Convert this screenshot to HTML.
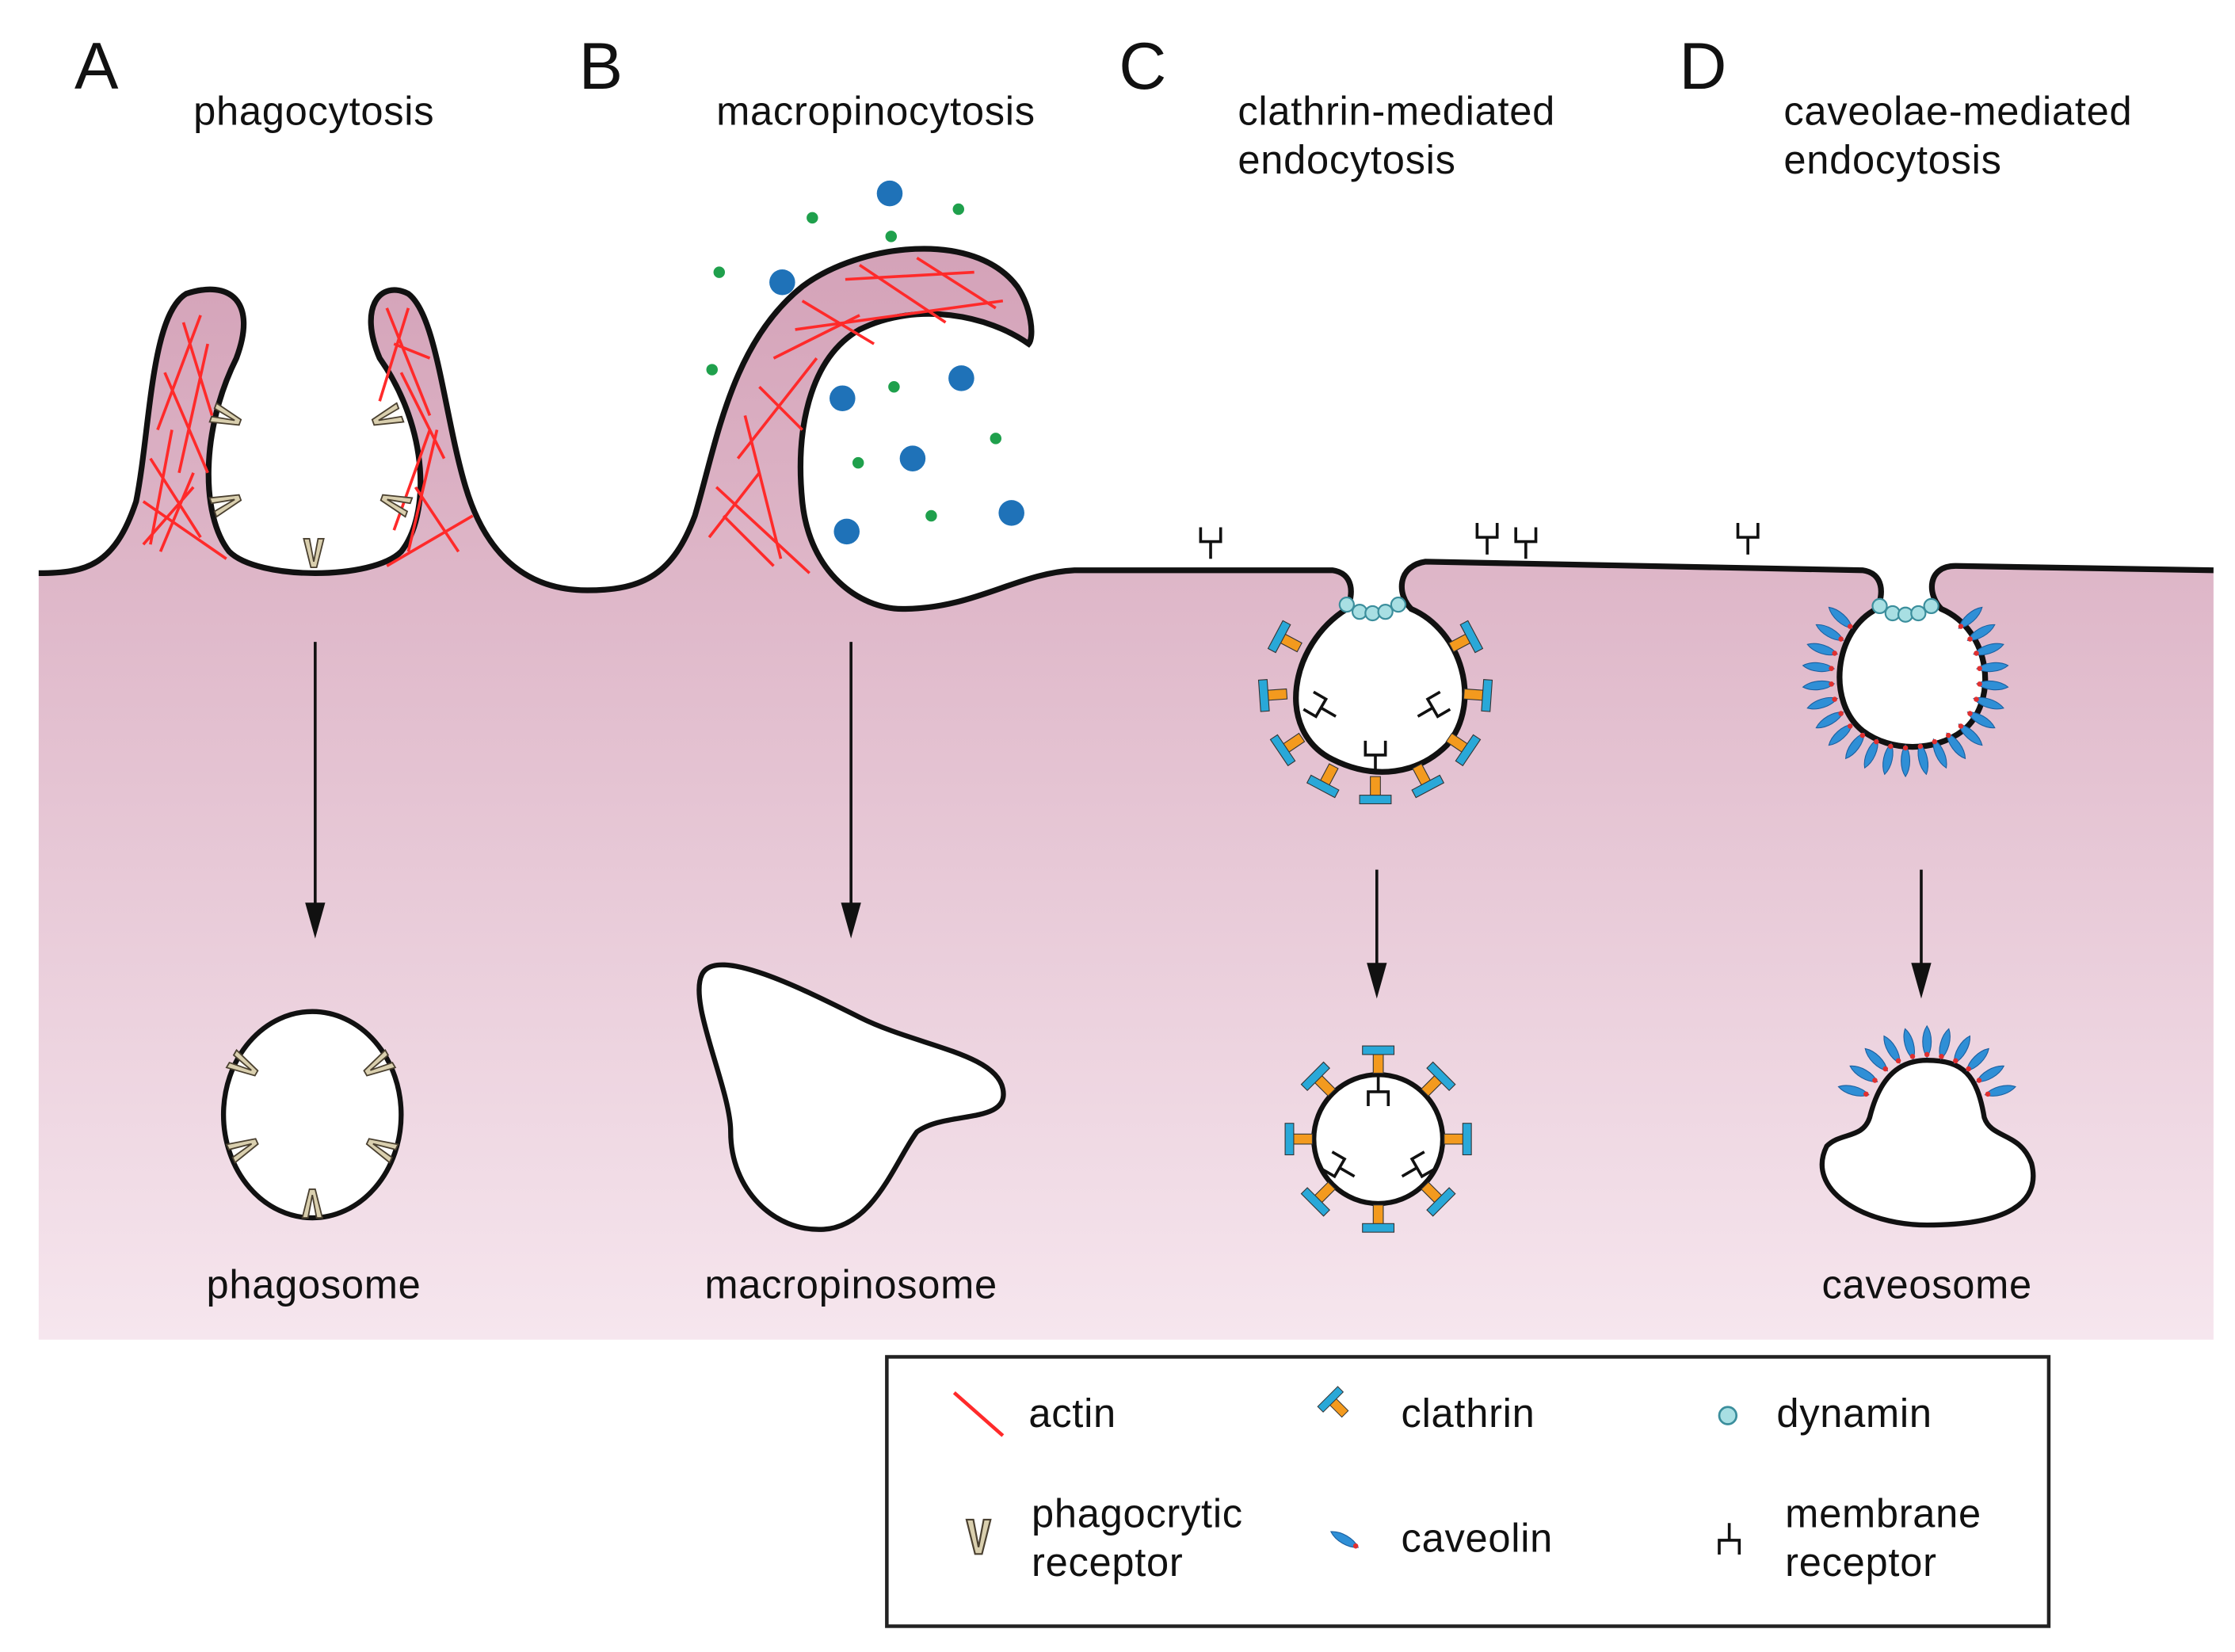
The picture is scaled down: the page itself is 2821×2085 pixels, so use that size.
<!DOCTYPE html>
<html><head><meta charset="utf-8"><style>
html,body{margin:0;padding:0;background:#fff;}
svg{display:block;}
text{font-family:"Liberation Sans",sans-serif;fill:#111;}
.t{font-size:28px;letter-spacing:0.4px;}
</style></head><body>
<svg width="2821" height="2085" viewBox="0 0 1560 1153" preserveAspectRatio="none" xmlns="http://www.w3.org/2000/svg">
<defs>
<linearGradient id="cy" x1="0" y1="0" x2="0" y2="1">
<stop offset="0" stop-color="#d4a2b8"/><stop offset="1" stop-color="#f6e6ee"/>
</linearGradient>
<g id="cl"><rect x="-3.5" y="0" width="7" height="14" fill="#f39a1e" stroke="#333" stroke-width="0.6"/><rect x="-11" y="13" width="22" height="6" fill="#29a8d8" stroke="#333" stroke-width="0.6"/></g>
<g id="cav"><path d="M0,0 C4,6 4,16 0,22 C-4,16 -4,6 0,0Z" fill="#2f8fd6" stroke="#1a5fa0" stroke-width="0.6"/><circle cx="0" cy="2" r="1.8" fill="#e03030"/></g>
<g id="pr"><path d="M-7,-12 L-2,8 L2,8 L7,-12 L3,-12 L0,4 L-3,-12Z" fill="#d9cfae" stroke="#4a4030" stroke-width="1"/></g>
<g id="mr"><path d="M-7,-10 L-7,0 L7,0 L7,-10 M0,0 L0,12" stroke="#111" stroke-width="2" fill="none"/></g>
</defs>

<path d="M27,400 C60,400 80,395 95,350 C105,300 105,220 130,205 C160,195 180,210 165,250 C140,300 140,360 160,385 C180,405 260,405 280,385 C300,360 300,300 265,250 C250,215 265,195 285,205 C305,220 310,290 325,340 C340,390 370,412 410,412 C450,412 470,400 485,360 C500,310 510,240 560,200 C600,170 680,160 710,200 C720,215 722,235 718,240 C690,220 640,210 600,230 C565,250 555,300 560,350 C565,400 600,425 630,425 C680,425 710,400 750,398 L930,398 C945,400 945,415 940,425 C900,450 890,510 930,530 C960,545 990,540 1010,520 C1035,490 1020,440 985,425 C975,415 975,395 995,392 L1300,398 C1315,400 1315,415 1310,425 C1280,440 1275,490 1300,510 C1320,525 1350,525 1370,510 C1395,490 1390,440 1355,425 C1345,415 1345,395 1365,395 L1545,398 L1545,935 L27,935 Z" fill="url(#cy)"/>
<path d="M27,400 C60,400 80,395 95,350 C105,300 105,220 130,205 C160,195 180,210 165,250 C140,300 140,360 160,385 C180,405 260,405 280,385 C300,360 300,300 265,250 C250,215 265,195 285,205 C305,220 310,290 325,340 C340,390 370,412 410,412 C450,412 470,400 485,360 C500,310 510,240 560,200 C600,170 680,160 710,200 C720,215 722,235 718,240 C690,220 640,210 600,230 C565,250 555,300 560,350 C565,400 600,425 630,425 C680,425 710,400 750,398 L930,398 C945,400 945,415 940,425 C900,450 890,510 930,530 C960,545 990,540 1010,520 C1035,490 1020,440 985,425 C975,415 975,395 995,392 L1300,398 C1315,400 1315,415 1310,425 C1280,440 1275,490 1300,510 C1320,525 1350,525 1370,510 C1395,490 1390,440 1355,425 C1345,415 1345,395 1365,395 L1545,398" fill="none" stroke="#111" stroke-width="4"/>

<g stroke="#ff2a2a" stroke-width="2" fill="none">
<path d="M128,225 L148,290 M140,220 L110,300 M115,260 L145,330 M105,320 L140,375 M100,350 L158,390 M120,300 L105,380 M135,330 L112,385 M100,380 L135,340 M145,240 L125,330"/>
<path d="M270,215 L300,290 M285,215 L265,280 M280,260 L310,320 M300,300 L275,370 M270,395 L330,360 M290,340 L320,385 M305,300 L285,385 M275,240 L300,250"/>
<path d="M495,375 L530,330 M500,340 L565,400 M520,290 L545,390 M515,320 L570,250 M540,250 L600,220 M555,230 L700,210 M590,195 L680,190 M600,185 L660,225 M640,180 L695,215 M560,210 L610,240 M530,270 L560,300 M505,360 L540,395"/>
</g>

<use href="#pr" transform="translate(160,292) rotate(-70)"/>
<use href="#pr" transform="translate(160,350) rotate(-110)"/>
<use href="#pr" transform="translate(268,292) rotate(70)"/>
<use href="#pr" transform="translate(274,350) rotate(110)"/>
<use href="#pr" transform="translate(219,388)"/>

<g fill="#1f72b8">
<circle cx="621" cy="135" r="9"/><circle cx="546" cy="197" r="9"/><circle cx="588" cy="278" r="9"/><circle cx="671" cy="264" r="9"/><circle cx="637" cy="320" r="9"/><circle cx="591" cy="371" r="9"/><circle cx="706" cy="358" r="9"/>
</g>
<g fill="#1fa04c">
<circle cx="567" cy="152" r="4"/><circle cx="622" cy="165" r="4"/><circle cx="669" cy="146" r="4"/><circle cx="502" cy="190" r="4"/><circle cx="497" cy="258" r="4"/><circle cx="624" cy="270" r="4"/><circle cx="695" cy="306" r="4"/><circle cx="599" cy="323" r="4"/><circle cx="650" cy="360" r="4"/>
</g>

<use href="#mr" transform="translate(845,378)"/>
<use href="#mr" transform="translate(1038,375)"/>
<use href="#mr" transform="translate(1065,378)"/>
<use href="#mr" transform="translate(1220,375)"/>
<use href="#mr" transform="translate(960,527)"/>
<use href="#mr" transform="translate(922,494) rotate(-60)"/>
<use href="#mr" transform="translate(1000,494) rotate(60)"/>

<g transform="translate(960,480)">
<use href="#cl" transform="rotate(0) translate(0,62)"/>
<use href="#cl" transform="rotate(28) translate(0,62)"/>
<use href="#cl" transform="rotate(-28) translate(0,62)"/>
<use href="#cl" transform="rotate(56) translate(0,62)"/>
<use href="#cl" transform="rotate(-56) translate(0,62)"/>
<use href="#cl" transform="rotate(86) translate(0,62)"/>
<use href="#cl" transform="rotate(-86) translate(0,62)"/>
<use href="#cl" transform="rotate(118) translate(0,60)"/>
<use href="#cl" transform="rotate(-118) translate(0,60)"/>
</g>
<g transform="translate(1330,472)">
<use href="#cav" transform="rotate(0) translate(0,48)"/>
<use href="#cav" transform="rotate(12) translate(0,48)"/>
<use href="#cav" transform="rotate(-12) translate(0,48)"/>
<use href="#cav" transform="rotate(24) translate(0,48)"/>
<use href="#cav" transform="rotate(-24) translate(0,48)"/>
<use href="#cav" transform="rotate(36) translate(0,49)"/>
<use href="#cav" transform="rotate(-36) translate(0,49)"/>
<use href="#cav" transform="rotate(48) translate(0,50)"/>
<use href="#cav" transform="rotate(-48) translate(0,50)"/>
<use href="#cav" transform="rotate(60) translate(0,50)"/>
<use href="#cav" transform="rotate(-60) translate(0,50)"/>
<use href="#cav" transform="rotate(72) translate(0,50)"/>
<use href="#cav" transform="rotate(-72) translate(0,50)"/>
<use href="#cav" transform="rotate(84) translate(0,50)"/>
<use href="#cav" transform="rotate(-84) translate(0,50)"/>
<use href="#cav" transform="rotate(96) translate(0,50)"/>
<use href="#cav" transform="rotate(-96) translate(0,50)"/>
<use href="#cav" transform="rotate(108) translate(0,50)"/>
<use href="#cav" transform="rotate(-108) translate(0,50)"/>
<use href="#cav" transform="rotate(120) translate(0,50)"/>
<use href="#cav" transform="rotate(-120) translate(0,50)"/>
<use href="#cav" transform="rotate(132) translate(0,50)"/>
<use href="#cav" transform="rotate(-132) translate(0,50)"/>
</g>
<g fill="#a8dfe3" stroke="#3b8e9c" stroke-width="1.2">
<circle cx="940" cy="422" r="5"/><circle cx="949" cy="427" r="5"/><circle cx="958" cy="428" r="5"/><circle cx="967" cy="427" r="5"/><circle cx="976" cy="422" r="5"/>
<circle cx="1312" cy="423" r="5"/><circle cx="1321" cy="428" r="5"/><circle cx="1330" cy="429" r="5"/><circle cx="1339" cy="428" r="5"/><circle cx="1348" cy="423" r="5"/>
</g>

<g stroke="#111" stroke-width="2">
<line x1="220" y1="448" x2="220" y2="635"/><line x1="594" y1="448" x2="594" y2="635"/>
<line x1="961" y1="607" x2="961" y2="677"/><line x1="1341" y1="607" x2="1341" y2="677"/>
</g>
<g fill="#111">
<path d="M213,630 L227,630 L220,655Z"/><path d="M587,630 L601,630 L594,655Z"/>
<path d="M954,672 L968,672 L961,697Z"/><path d="M1334,672 L1348,672 L1341,697Z"/>
</g>

<ellipse cx="218" cy="778" rx="62" ry="72" fill="#fff" stroke="#111" stroke-width="3.5"/>
<use href="#pr" transform="translate(172,745) rotate(-60)"/>
<use href="#pr" transform="translate(262,745) rotate(60)"/>
<use href="#pr" transform="translate(172,800) rotate(-115)"/>
<use href="#pr" transform="translate(264,800) rotate(115)"/>
<use href="#pr" transform="translate(218,838) rotate(180)"/>

<path d="M490,680 C480,700 510,760 510,790 C510,830 540,860 575,858 C610,856 625,810 640,790 C660,775 705,785 700,760 C695,735 640,730 600,710 C560,690 500,660 490,680 Z" fill="#fff" stroke="#111" stroke-width="3.5"/>

<circle cx="962" cy="795" r="45" fill="#fff" stroke="#111" stroke-width="3.5"/>
<g transform="translate(962,795)">
<use href="#cl" transform="rotate(0) translate(0,46)"/>
<use href="#cl" transform="rotate(45) translate(0,46)"/>
<use href="#cl" transform="rotate(90) translate(0,46)"/>
<use href="#cl" transform="rotate(135) translate(0,46)"/>
<use href="#cl" transform="rotate(180) translate(0,46)"/>
<use href="#cl" transform="rotate(225) translate(0,46)"/>
<use href="#cl" transform="rotate(270) translate(0,46)"/>
<use href="#cl" transform="rotate(315) translate(0,46)"/>
</g>
<use href="#mr" transform="translate(962,762) rotate(180)"/>
<use href="#mr" transform="translate(935,815) rotate(-60)"/>
<use href="#mr" transform="translate(989,815) rotate(60)"/>

<path d="M1275,800 C1260,830 1300,855 1345,855 C1400,855 1425,840 1418,812 C1410,790 1390,795 1385,780 C1380,750 1370,740 1345,740 C1320,740 1310,760 1305,780 C1300,795 1285,790 1275,800 Z" fill="#fff" stroke="#111" stroke-width="3.5"/>
<g transform="translate(1345,775)">
<use href="#cav" transform="rotate(180) translate(0,37)"/>
<use href="#cav" transform="rotate(195) translate(0,37)"/>
<use href="#cav" transform="rotate(165) translate(0,37)"/>
<use href="#cav" transform="rotate(210) translate(0,38)"/>
<use href="#cav" transform="rotate(150) translate(0,38)"/>
<use href="#cav" transform="rotate(225) translate(0,39)"/>
<use href="#cav" transform="rotate(135) translate(0,39)"/>
<use href="#cav" transform="rotate(240) translate(0,40)"/>
<use href="#cav" transform="rotate(120) translate(0,40)"/>
<use href="#cav" transform="rotate(255) translate(0,42)"/>
<use href="#cav" transform="rotate(105) translate(0,42)"/>
</g>

<text x="52" y="62" font-size="46">A</text>
<text x="404" y="62" font-size="46">B</text>
<text x="781" y="62" font-size="46">C</text>
<text x="1172" y="62" font-size="46">D</text>
<text class="t" x="135" y="87">phagocytosis</text>
<text class="t" x="500" y="87">macropinocytosis</text>
<text class="t" x="864" y="87">clathrin-mediated</text>
<text class="t" x="864" y="121">endocytosis</text>
<text class="t" x="1245" y="87">caveolae-mediated</text>
<text class="t" x="1245" y="121">endocytosis</text>
<text class="t" x="219" y="906" text-anchor="middle">phagosome</text>
<text class="t" x="594" y="906" text-anchor="middle">macropinosome</text>
<text class="t" x="1345" y="906" text-anchor="middle">caveosome</text>

<rect x="619" y="947" width="811" height="188" fill="#fff" stroke="#222" stroke-width="2.5"/>
<line x1="666" y1="972" x2="700" y2="1002" stroke="#ff2a2a" stroke-width="2.5"/>
<text class="t" x="718" y="996">actin</text>
<use href="#cl" transform="translate(935,983) rotate(135) scale(0.9) translate(0,-6)"/>
<text class="t" x="978" y="996">clathrin</text>
<circle cx="1206" cy="988" r="6" fill="#a8dfe3" stroke="#3b8e9c" stroke-width="1.5"/>
<text class="t" x="1240" y="996">dynamin</text>
<use href="#pr" transform="translate(683,1075) scale(1.2)"/>
<text class="t" x="720" y="1066">phagocrytic</text>
<text class="t" x="720" y="1100">receptor</text>
<use href="#cav" transform="translate(948,1080) rotate(120)"/>
<text class="t" x="978" y="1083">caveolin</text>
<use href="#mr" transform="translate(1207,1075) rotate(180)"/>
<text class="t" x="1246" y="1066">membrane</text>
<text class="t" x="1246" y="1100">receptor</text>
</svg>
</body></html>
